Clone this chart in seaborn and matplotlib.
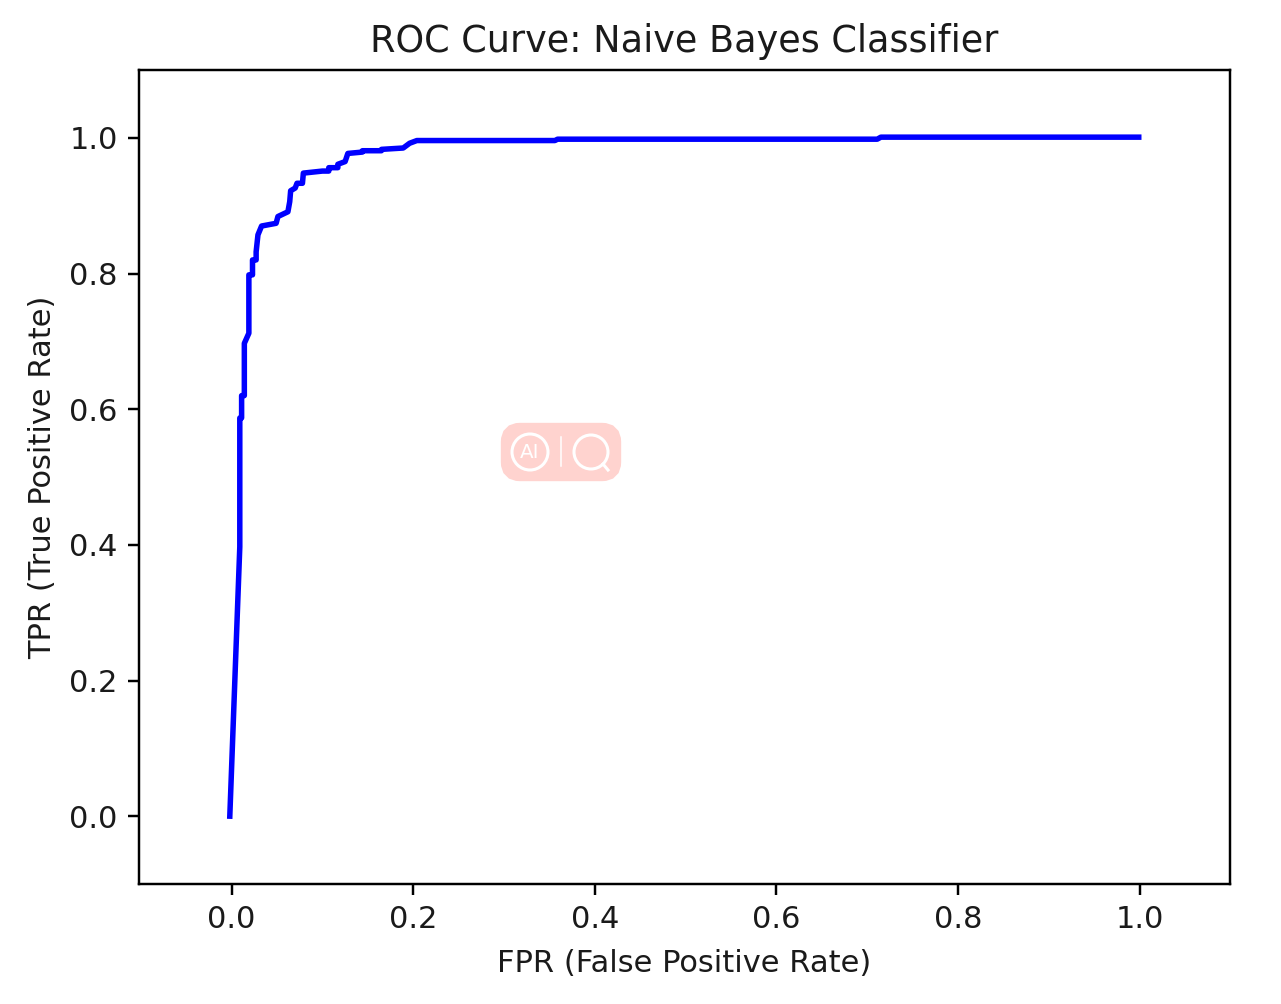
import matplotlib
matplotlib.use('Agg')
import matplotlib.pyplot as plt
from matplotlib.patches import FancyBboxPatch, Circle
import seaborn as sns
import pandas as pd

# values
fpr = [-0.002, 0.009, 0.009, 0.011, 0.011, 0.014, 0.014, 0.019, 0.019, 0.023, 0.023,
       0.027, 0.027, 0.029, 0.033, 0.049, 0.051, 0.062, 0.064, 0.065, 0.070, 0.072,
       0.078, 0.079, 0.100, 0.107, 0.107, 0.117, 0.117, 0.125, 0.128, 0.144, 0.144,
       0.165, 0.165, 0.189, 0.196, 0.204, 0.356, 0.359, 0.711, 0.715, 0.999]
tpr = [0.0, 0.397, 0.587, 0.587, 0.620, 0.620, 0.697, 0.712, 0.798, 0.798, 0.820,
       0.820, 0.832, 0.857, 0.870, 0.874, 0.884, 0.891, 0.906, 0.922, 0.926, 0.933,
       0.933, 0.948, 0.951, 0.951, 0.956, 0.956, 0.961, 0.965, 0.977, 0.979, 0.981,
       0.981, 0.983, 0.985, 0.992, 0.996, 0.996, 0.998, 0.998, 1.001, 1.001]
x_ticks = [0.0, 0.2, 0.4, 0.6, 0.8, 1.0]
y_ticks = [0.0, 0.2, 0.4, 0.6, 0.8, 1.0]

W, H = 1281, 1004
df = pd.DataFrame({'fpr': fpr, 'tpr': tpr})

plt.rcParams['text.color'] = '#1a1a1a'
plt.rcParams['axes.labelcolor'] = '#1a1a1a'
plt.rcParams['xtick.labelcolor'] = '#1a1a1a'
plt.rcParams['ytick.labelcolor'] = '#1a1a1a'

fig = plt.figure(figsize=(W / 220, H / 220), dpi=220)
ax = fig.add_axes([139 / W, 1 - 884 / H, (1230 - 139) / W, (884 - 70) / H])

sns.lineplot(data=df, x='fpr', y='tpr', color='blue', linewidth=1.8, sort=False, estimator=None, ax=ax)

ax.set_xlim(-0.102, 1.0995)
ax.set_ylim(-0.1, 1.1)
ax.set_xticks(x_ticks)
ax.set_yticks(y_ticks)
ax.set_xlabel('FPR (False Positive Rate)', labelpad=4.8)
ax.set_ylabel('TPR (True Positive Rate)')
ax.set_title('ROC Curve: Naive Bayes Classifier')

# watermark badge over the plot, in figure pixels
overlay = fig.add_axes([0, 0, 1, 1], facecolor='none')
overlay.set_xlim(0, W)
overlay.set_ylim(H, 0)
overlay.axis('off')
overlay.add_patch(FancyBboxPatch((510, 432), 102, 40, boxstyle='round,pad=0,rounding_size=10',
                                 facecolor='#ffd3cf', edgecolor='#ffd3cf', linewidth=6))
overlay.add_patch(Circle((530, 452), 18, fill=False, edgecolor='white', linewidth=1.0))
overlay.text(530, 452, 'AI', color='white', fontsize=6.5, ha='center', va='center')
overlay.plot([561, 561], [437, 466], color='white', linewidth=0.5)
overlay.add_patch(Circle((591, 452), 17, fill=False, edgecolor='white', linewidth=1.0))
overlay.plot([603, 608], [464, 470], color='white', linewidth=1.0)

fig.savefig('out.png', dpi=220)
